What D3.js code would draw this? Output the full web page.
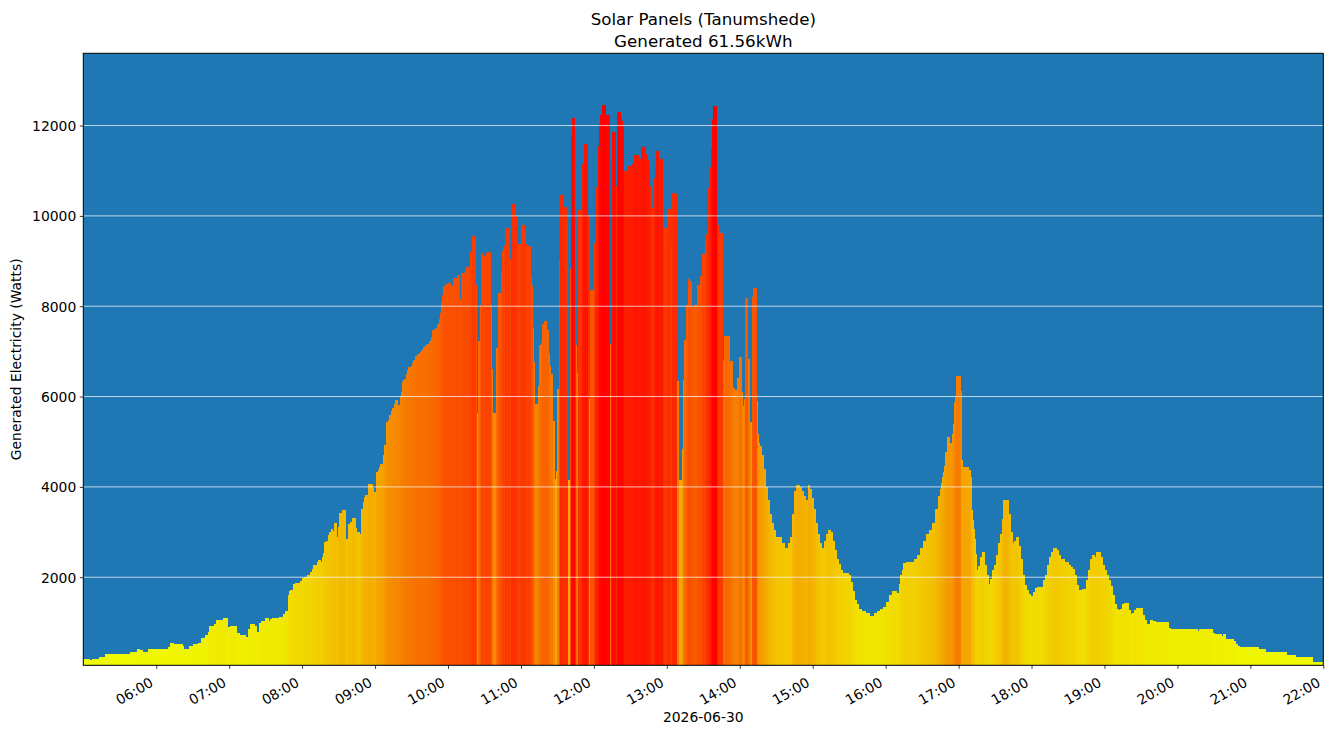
<!DOCTYPE html>
<html>
<head>
<meta charset="utf-8">
<script src="https://cdn.jsdelivr.net/npm/d3@7"></script>
<style>
    body { margin: 0; background: #ffffff; }
    svg text { font-family: "DejaVu Sans", sans-serif; fill: #000000; }
</style>
</head>
<body>
<div id="chart"></div>
<script>
const title_lines = ["Solar Panels (Tanumshede)", "Generated 61.56kWh"]
const day_label = "2026-06-30"
const y_label = "Generated Electricity (Watts)"
const y_ticks = [2000, 4000, 6000, 8000, 10000, 12000]
const x_tick_hours = [6, 7, 8, 9, 10, 11, 12, 13, 14, 15, 16, 17, 18, 19, 20, 21, 22]
const day_start_hour = 5
const day_end_hour = 22

// readings: [minutes after 05:00, watts], each one holds until the next
const morning = [
    [0, 184], [4.9, 170], [7.4, 180], [13.2, 228], [18.1, 294], [38.7, 340], [44.4, 405], [46.6, 383],
    [48.5, 340], [53.5, 405], [69.9, 450], [71.6, 538], [74.0, 516], [81.4, 471], [82.3, 405], [87.2, 471],
    [90.5, 516], [94.6, 538], [97.1, 649], [100.4, 715], [102.8, 781], [103.6, 914], [107.8, 958], [109.4, 1047],
    [111.9, 1025], [112.7, 1047], [115.2, 1091], [118.5, 892], [120.9, 914], [125.9, 759], [128.3, 715], [133.3, 671],
    [135.7, 848], [137.4, 958], [140.7, 914], [142.3, 781], [144.8, 981], [146.4, 1025], [149.7, 1091], [152.2, 1025],
    [153.8, 1069], [155.5, 1091], [161.2, 1113], [164.5, 1180], [166.2, 1246], [168.6, 1600], [169.3, 1690], [170.3, 1710],
    [172.7, 1843], [174.4, 1866], [178.5, 1910], [180.1, 1977], [181.8, 2000], [184.3, 2044], [186.5, 2110], [188.1, 2177],
    [189.0, 2266], [192.2, 2332], [193.1, 2376], [195.5, 2332], [196.3, 2443], [197.2, 2531], [198.0, 2775], [199.6, 2797],
    [201.3, 2930], [202.1, 2996], [203.8, 3062], [205.4, 3018], [206.2, 3195], [208.7, 2885], [209.5, 3106], [210.3, 3416],
    [212.8, 3483], [216.1, 2841], [217.7, 3173], [219.4, 3217], [221.0, 3306], [224.3, 3084], [225.1, 2996], [227.6, 2952],
    [228.4, 3505], [230.1, 3660], [230.9, 3771], [231.7, 3815], [234.2, 4058], [238.3, 3970], [239.1, 3881]
]

const forenoon = [
    [240.8, 4324], [242.4, 4368], [243.2, 4434], [244.1, 4500], [246.5, 4700], [247.4, 4921], [249.0, 5430], [250.6, 5475],
    [251.5, 5585], [253.1, 5674], [253.9, 5740], [255.6, 5829], [256.4, 5917], [258.9, 5806], [260.5, 6006], [261.3, 6094],
    [262.2, 6316], [263.0, 6360], [263.8, 6382], [265.5, 6493], [266.3, 6581], [267.1, 6647], [269.6, 6670], [270.4, 6736],
    [271.2, 6803], [272.9, 6891], [274.5, 6935], [277.0, 6980], [277.8, 7024], [279.4, 7090], [281.1, 7135], [282.7, 7157],
    [284.4, 7223], [286.0, 7312], [286.8, 7467], [289.3, 7511], [290.9, 7600], [292.6, 7710], [293.4, 7843], [294.0, 8098],
    [294.8, 8259], [295.6, 8444], [297.3, 8476], [298.1, 8500], [299.7, 8516], [302.2, 8476], [303.0, 8444], [303.8, 8621],
    [307.1, 8685], [309.6, 8154], [310.4, 8733], [313.7, 8822], [314.5, 8862], [317.8, 9200], [319.5, 9562], [322.7, 8460],
    [323.6, 5628], [324.4, 7229], [326.0, 8018], [326.9, 9176], [328.5, 9136], [329.3, 9104], [331.0, 9184], [331.8, 9200],
    [335.1, 8034], [335.9, 6610], [336.7, 5644], [339.2, 7076], [340.8, 8291], [343.3, 8782], [344.1, 9224], [344.9, 9329],
    [346.6, 9731], [351.0, 9055], [351.8, 10262], [354.8, 9989], [356.4, 9377], [359.7, 9796]
]

const midday = [
    [363.0, 9635], [363.8, 9385], [364.7, 9329], [368.0, 8621], [368.8, 8444], [369.6, 7519], [370.4, 6771], [371.2, 5845],
    [373.7, 6232], [374.5, 7140], [376.2, 7189], [377.0, 7607], [378.6, 7680], [381.1, 7471], [382.7, 6964], [383.6, 6674],
    [384.4, 6497], [386.0, 5460], [387.7, 4172], [388.5, 4357], [389.3, 6167], [391.0, 9000], [391.8, 10471], [394.3, 10198],
    [397.5, 9908], [398.4, 4156], [400.0, 8822], [400.8, 11799], [401.7, 12161], [404.1, 10270], [404.9, 7148], [405.8, 6513],
    [406.6, 10126], [409.9, 11155], [411.5, 11590], [414.8, 10029], [415.6, 5950], [416.5, 8364], [419.7, 9393], [420.6, 10648],
    [423.0, 11541], [423.8, 12040], [424.7, 12225], [426.3, 12459], [429.6, 12241], [432.9, 7173], [433.7, 11236], [434.5, 11863],
    [437.8, 10656], [438.6, 12298], [441.9, 12161], [442.8, 12105], [443.6, 12000], [444.4, 10994], [447.7, 11115], [451.0, 11155],
    [451.8, 11180], [453.4, 11340], [457.1, 11252], [458.7, 11517], [462.8, 11372], [464.5, 11236], [465.3, 11091], [466.1, 10673],
    [467.0, 10504], [467.8, 10166], [469.4, 10850], [470.2, 11091], [471.1, 11429], [473.5, 11268], [476.8, 10286], [477.6, 9723],
    [480.1, 10142], [483.4, 9320], [484.2, 10512], [486.7, 10480], [488.3, 6344], [490.0, 4148], [492.5, 4832], [493.3, 6368],
    [494.1, 7245], [495.7, 8034], [497.4, 8613], [499.0, 8557], [500.7, 7994], [502.3, 8018], [504.8, 8476], [507.3, 8661],
    [508.9, 9160], [511.4, 9442], [512.2, 9602], [513.0, 10367], [513.8, 10608], [515.5, 11091], [516.3, 11533], [517.1, 12153],
    [518.0, 12442], [521.2, 10809], [522.1, 9803], [522.9, 9627], [526.2, 6811], [527.0, 7350], [531.9, 6787], [534.4, 6200],
    [536.1, 6143], [537.7, 6409], [539.3, 6867], [541.8, 6103], [542.6, 5797], [543.5, 5942], [544.3, 8179], [546.8, 6827],
    [548.4, 5443], [550.0, 8195], [550.9, 8396], [554.2, 5902], [555.0, 5178], [555.8, 4977]
]

const afternoon = [
    [556.7, 4900], [558.3, 4700], [559.9, 4400], [561.5, 4000], [563.2, 3700], [564.8, 3400], [566.5, 3200], [568.1, 3050],
    [569.8, 2900], [574.7, 2750], [577.2, 2650], [579.6, 2750], [581.3, 2900], [582.9, 3400], [584.6, 3900], [586.2, 4050],
    [589.5, 4000], [591.1, 3900], [592.8, 3800], [594.4, 3700], [596.1, 4050], [597.7, 3950], [599.4, 3750], [601.0, 3500],
    [602.7, 3200], [604.3, 2950], [606.0, 2750], [607.6, 2650], [609.3, 2800], [610.9, 2950], [612.5, 3050], [615.0, 3000],
    [616.6, 2800], [618.3, 2600], [619.9, 2400], [621.6, 2300], [623.2, 2150], [624.9, 2100], [629.8, 2050], [631.5, 1900],
    [633.1, 1700], [634.8, 1500], [636.4, 1400], [638.0, 1300], [640.5, 1250], [643.8, 1200], [647.1, 1150], [650.4, 1200],
    [652.8, 1250], [655.3, 1300], [657.8, 1350], [660.2, 1450], [662.7, 1600], [665.2, 1700], [669.3, 1650], [670.9, 1850],
    [671.8, 2044], [673.4, 2155], [674.2, 2310], [676.7, 2332], [683.3, 2400], [685.8, 2500], [688.3, 2650], [690.7, 2800],
    [693.2, 2950], [695.7, 3050], [698.2, 3200], [700.6, 3500], [703.1, 3800], [704.8, 3963], [705.6, 4087], [706.4, 4220],
    [707.3, 4331], [708.1, 4456], [708.9, 4766], [710.6, 5098], [712.2, 5032], [713.0, 4973], [714.7, 5165], [715.5, 5401],
    [716.3, 5873], [717.2, 5991], [718.0, 6456]
]

const evening = [
    [721.3, 6117], [722.1, 4604], [722.9, 4441], [727.9, 4368], [729.5, 4220], [730.3, 3483], [731.2, 3261], [732.0, 3077],
    [732.8, 2841], [733.6, 2524], [734.4, 2155], [735.3, 2066], [736.1, 2243], [737.7, 2450], [739.4, 2550], [741.0, 2266],
    [742.7, 2044], [744.3, 1843], [746.0, 1955], [747.6, 2155], [749.3, 2266], [750.9, 2500], [752.6, 2750], [754.2, 2950],
    [755.9, 3300], [756.7, 3700], [760.8, 3400], [762.4, 3000], [764.1, 2750], [765.7, 2800], [767.4, 2900], [769.0, 2700],
    [770.7, 2400], [772.3, 2044], [774.0, 1821], [775.6, 1710], [777.3, 1622], [778.9, 1490], [779.8, 1578], [781.4, 1666],
    [783.1, 1755], [784.7, 1777], [789.6, 1932], [791.3, 2044], [792.9, 2266], [794.6, 2450], [796.2, 2550], [797.9, 2650],
    [800.3, 2600], [802.0, 2500], [803.6, 2400], [806.9, 2332], [810.2, 2266], [811.9, 2221], [813.5, 2177], [815.2, 2044],
    [816.8, 1821], [818.5, 1710], [821.8, 1733], [825.1, 1932], [826.7, 2155], [828.4, 2400], [830.0, 2500], [831.7, 2450],
    [833.3, 2550], [836.6, 2450], [838.2, 2266], [839.9, 2155], [841.5, 2044], [843.2, 1932], [844.8, 1800], [846.5, 1600],
    [848.1, 1400], [849.8, 1290], [851.4, 1268], [853.1, 1290], [854.7, 1400], [856.4, 1423], [859.7, 1268], [861.3, 1180],
    [863.0, 1202], [864.6, 1268], [866.3, 1313], [871.2, 1158], [872.9, 1047], [874.5, 958], [877.8, 1047], [879.4, 1025],
    [881.9, 1003], [892.6, 870], [894.2, 848], [916.4, 804], [918.1, 848], [928.8, 759], [930.4, 737], [936.2, 693],
    [937.8, 737], [939.5, 627], [946.1, 582], [947.7, 516], [949.4, 471], [951.0, 450], [966.6, 405], [972.4, 340],
    [989.7, 272], [997.1, 228], [1011.1, 117]
]

const readings = morning.concat(forenoon, midday, afternoon, evening)

function to_date(minutes) {
    return new Date(2026, 5, 30, day_start_hour, 0, 0, Math.round(minutes * 60000))
}

function draw_bars() {
    const margin = {top: 53.3, right: 9.7, bottom: 70.7, left: 83.3}
    const width = 1333 - margin.left - margin.right,
        height = 736 - margin.top - margin.bottom;

    const root = d3.select("#chart")
        .append("svg")
        .attr("width", 1333)
        .attr("height", 736)
    const svg = root.append("g")
        .attr("transform", "translate(" + margin.left + "," + margin.top + ")")

    const day_minutes = (day_end_hour - day_start_hour) * 60
    const bars = readings.map((r, i) => ({
        start: r[0],
        end: i < readings.length - 1 ? readings[i + 1][0] : day_minutes,
        watts: r[1]
    }))

    const x = d3.scaleTime()
        .domain([to_date(0), to_date(day_minutes)])
        .range([0, width])
    const y = d3.scaleLinear()
        .domain([50, 13600])
        .range([height, 0])
    const colour = d3.scaleLinear()
        .domain([0, d3.max(readings, d => d[1])])
        .range(["#efff00", "#ff0000"])
        .clamp(true)

    root.append("defs").append("clipPath")
        .attr("id", "plot_clip")
        .append("rect")
        .attr("width", width)
        .attr("height", height)

    svg.append("rect")
        .attr("width", width)
        .attr("height", height)
        .attr("fill", "#1f77b4")

    svg.append("g")
        .attr("clip-path", "url(#plot_clip)")
        .selectAll("rect")
        .data(bars)
        .enter()
        .append("rect")
        .attr("x", d => x(to_date(d.start)))
        .attr("width", d => x(to_date(d.end)) - x(to_date(d.start)) + 0.4)
        .attr("y", d => y(d.watts))
        .attr("height", d => height - y(d.watts))
        .attr("fill", d => colour(d.watts))
        .attr("shape-rendering", "crispEdges")

    // horizontal grid over the bars
    svg.append("g")
        .selectAll("line")
        .data(y_ticks)
        .enter()
        .append("line")
        .attr("x1", 0)
        .attr("x2", width)
        .attr("y1", d => y(d))
        .attr("y2", d => y(d))
        .attr("stroke", "#ffffff")
        .attr("stroke-width", 0.8)
        .attr("stroke-opacity", 0.9)

    const y_axis = svg.append("g")
        .call(d3.axisLeft(y)
            .tickValues(y_ticks)
            .tickFormat(d3.format("d"))
            .tickSizeInner(3.5)
            .tickSizeOuter(0)
            .tickPadding(3.5)
        )
    y_axis.select(".domain").remove()
    y_axis.selectAll("line").attr("stroke", "#000").attr("stroke-width", 0.8)
    y_axis.selectAll("text")
        .attr("font-family", "DejaVu Sans")
        .attr("font-size", "13.9px")
        .attr("dy", "0.36em")

    const x_axis = svg.append("g")
        .attr("transform", "translate(0," + height + ")")
        .call(d3.axisBottom(x)
            .tickValues(x_tick_hours.map(h => new Date(2026, 5, 30, h, 0)))
            .tickFormat(d3.timeFormat("%H:%M"))
            .tickSizeInner(3.5)
            .tickSizeOuter(0)
        )
    x_axis.select(".domain").remove()
    x_axis.selectAll("line").attr("stroke", "#000").attr("stroke-width", 0.8)
    x_axis.selectAll("text")
        .attr("font-family", "DejaVu Sans")
        .attr("font-size", "13.9px")
        .attr("y", null)
        .attr("dy", null)
        .attr("text-anchor", "end")
        .attr("transform", "translate(-2.5,20) rotate(-30)")

    // frame
    svg.append("rect")
        .attr("width", width)
        .attr("height", height)
        .attr("fill", "none")
        .attr("stroke", "#000")
        .attr("stroke-width", 1)

    root.append("text")
        .attr("x", margin.left + width / 2)
        .attr("y", 722)
        .attr("text-anchor", "middle")
        .attr("font-size", "13.9px")
        .text(day_label)

    root.append("text")
        .attr("transform", "translate(21," + (margin.top + height / 2) + ") rotate(-90)")
        .attr("text-anchor", "middle")
        .attr("font-size", "13.9px")
        .text(y_label)

    root.append("g")
        .selectAll("text")
        .data(title_lines)
        .enter()
        .append("text")
        .attr("x", margin.left + width / 2)
        .attr("y", (d, i) => 24.5 + i * 22)
        .attr("text-anchor", "middle")
        .attr("font-size", "16.7px")
        .text(d => d)
}

draw_bars()
</script>
</body>
</html>
